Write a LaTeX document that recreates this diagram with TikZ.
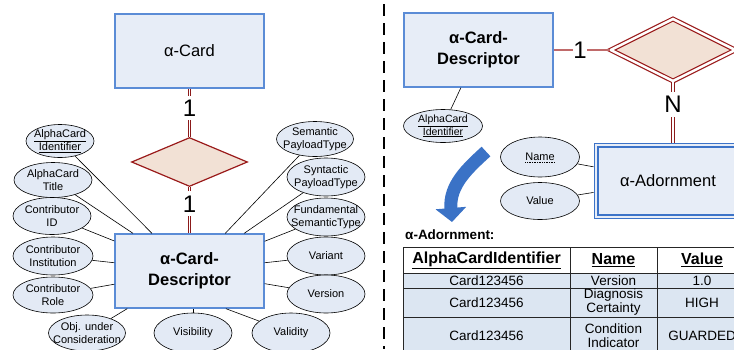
\documentclass[tikz,border=0pt]{standalone}
\usepackage{fontspec}
\setmainfont{Liberation Sans}
\usetikzlibrary{shapes.geometric,arrows.meta,calc}

\definecolor{entfill}{HTML}{E7EDF7}
\definecolor{entline}{HTML}{5B8CD6}
\definecolor{adline}{HTML}{3C73C8}
\definecolor{attrfill}{HTML}{E3EAF5}
\definecolor{relfill}{HTML}{F2E1D5}
\definecolor{relline}{HTML}{9A1A1A}
\definecolor{reldbl}{HTML}{8B1A1A}
\definecolor{relsoft}{HTML}{C06A6A}
\definecolor{rowfill}{HTML}{DCE6F2}
\definecolor{arrowblue}{HTML}{3A72C6}

\begin{document}
\begin{tikzpicture}[x=1pt,y=-1pt,
  entity/.style={rectangle,draw=entline,fill=entfill,line width=1.3pt,
    minimum width=149pt,minimum height=74pt,inner sep=0pt,align=center,
    font=\fontsize{16.5}{20}\selectfont},
  attr/.style={ellipse,draw=black,fill=attrfill,line width=0.6pt,inner sep=0pt,
    minimum width=78pt,minimum height=38pt},
  attrtxt/.style={align=center,inner sep=0pt,font=\fontsize{11}{13}\selectfont},
  link/.style={draw=black,line width=0.6pt},
  rel/.style={diamond,draw=relline,fill=relfill,line width=1.2pt,inner sep=0pt},
  dbl/.style={draw=reldbl,double=white,double distance=1.5pt,line width=0.8pt},
  multlabel/.style={fill=white,inner xsep=0pt,inner ysep=4pt,
    font=\fontsize{24}{24}\selectfont},
  cell/.style={rectangle,draw=black!85,line width=0.7pt,inner sep=0pt,align=center,
    font=\fontsize{13.5}{14}\selectfont},
  headcell/.style={cell,fill=white,font=\fontsize{16}{18}\selectfont\bfseries},
  bodycell/.style={cell,fill=rowfill}]

\useasboundingbox (0,0) rectangle (734,349);
\clip (0,0) rectangle (734,349);

% divider between the two halves
\draw[line width=2pt,dash pattern=on 12pt off 7pt] (384,4) -- (384,349);

% ---------------- left half: attributes of the card descriptor
\node[entity] (card) at (189.5,51) {α-Card};
\node[rel,minimum width=116pt,minimum height=49pt] (rel1) at (189.5,162) {};
\node[entity,font=\fontsize{16.5}{21}\selectfont\bfseries] (desc) at (189.5,271) {α-Card-\\Descriptor};

\draw[dbl] (card) -- node[multlabel,pos=0.4]{1} (rel1);
\draw[dbl] (rel1) -- node[multlabel,pos=0.36]{1} (desc);

\node[attr,minimum width=68pt,minimum height=33pt,
  label={[attrtxt]center:{\underline{AlphaCard}\\\underline{Identifier}}}] (aid) at (60,141) {};
\node[attr,minimum height=35pt,label={[attrtxt]center:{AlphaCard\\Title}}] (atitle) at (53,180) {};
\node[attr,minimum height=37pt,label={[attrtxt]center:{Contributor\\ID}}] (cid) at (52,216) {};
\node[attr,minimum width=80pt,label={[attrtxt]center:{Contributor\\Institution}}] (cinst) at (53,256) {};
\node[attr,minimum width=80pt,minimum height=36pt,label={[attrtxt]center:{Contributor\\Role}}] (crole) at (53,295) {};
\node[attr,minimum width=77pt,minimum height=36pt,label={[attrtxt]center:{Obj. under\\Consideration}}] (obj) at (87,333) {};

\node[attr,minimum width=77pt,minimum height=35pt,label={[attrtxt]center:{Semantic\\PayloadType}}] (sem) at (315,139) {};
\node[attr,label={[attrtxt]center:{Syntactic\\PayloadType}}] (syn) at (326,177) {};
\node[attr,label={[attrtxt]center:{Fundamental\\SemanticType}}] (fund) at (326,217) {};
\node[attr,label={[attrtxt]center:{Variant}}] (var) at (326,256) {};
\node[attr,label={[attrtxt]center:{Version}}] (ver) at (326,294) {};
\node[attr,minimum height=40pt,label={[attrtxt]center:{Visibility}}] (vis) at (193,333) {};
\node[attr,minimum height=40pt,label={[attrtxt]center:{Validity}}] (val) at (291,333) {};

\foreach \a in {aid,atitle,cid,cinst,crole,obj,sem,syn,fund,var,ver}
  \draw[link] (\a) -- (desc);
\draw[link] (vis) -- (vis |- desc.south);
\draw[link] (val) -- (desc.-46);

% ---------------- right half: the adornment relation
\node[entity,font=\fontsize{16.5}{21}\selectfont\bfseries] (rdesc) at (478.5,50) {α-Card-\\Descriptor};
\node[rel,draw=relline,double=white,double distance=2.5pt,line width=1.2pt,
  minimum width=125pt,minimum height=62.5pt] (rel2) at (673,50) {};
\node[rectangle,draw=adline,fill=entfill,line width=1pt,minimum width=148pt,minimum height=75pt,
  inner sep=0pt,font=\fontsize{16.5}{20}\selectfont] (adorn) at (668,180.5) {α-Adornment};
\draw[draw=adline,line width=2pt] ($(adorn.north west)+(4,4)$) rectangle ($(adorn.south east)+(-4,-4)$);

\draw[draw=relsoft,line width=1.2pt] (rdesc) -- node[multlabel,pos=0.47]{1} (rel2);
\draw[dbl] (rel2.south) -- node[multlabel,pos=0.37]{N} (rel2.south |- adorn.north);

\node[attr,minimum width=79pt,minimum height=33pt,
  label={[attrtxt,font=\fontsize{10.5}{12.5}\selectfont]center:{\underline{AlphaCard}\\\underline{Identifier}}}] (rid) at (443,126) {};
\node[attr,minimum width=79pt,minimum height=40pt,label={[attrtxt,name=namelbl]center:{Name}}] (rname) at (540,157) {};
\draw[line width=0.7pt,dash pattern=on 0.8pt off 0.9pt]
  ($(namelbl.base west)+(0,2)$) -- ($(namelbl.base east)+(0,2)$);
\node[attr,minimum width=79pt,minimum height=37pt,label={[attrtxt]center:{Value}}] (rval) at (540,201) {};
\draw[link] (rid) -- (rdesc);
\draw[link] (rname) -- (adorn);
\draw[link] (rval) -- (adorn);

% turning arrow toward the table
\draw[draw=arrowblue,line width=13pt,-{Triangle[width=30pt,length=14pt]}]
  (486,151.5) .. controls (468,168) and (449,185) .. (452,222);

% ---------------- the adornment table
\node[anchor=west,inner sep=0pt,font=\fontsize{13.5}{16}\selectfont\bfseries] (tcap) at (405,235) {α-Adornment:};

\node[headcell,minimum width=167pt,minimum height=26pt] (h1) at (486.5,260) {\underline{AlphaCardIdentifier}};
\node[headcell,minimum width=87pt,minimum height=26pt] (h2) at (613.5,260) {\underline{Name}};
\node[headcell,minimum width=90pt,minimum height=26pt] (h3) at (702,260) {\underline{Value}};

\node[bodycell,minimum width=167pt,minimum height=15pt] (a1) at (486.5,280.5) {Card123456};
\node[bodycell,minimum width=87pt,minimum height=15pt] (b1) at (613.5,280.5) {Version};
\node[bodycell,minimum width=90pt,minimum height=15pt] (c1) at (702,280.5) {1.0};

\node[bodycell,minimum width=167pt,minimum height=29pt] (a2) at (486.5,302.5) {Card123456};
\node[bodycell,minimum width=87pt,minimum height=29pt] (b2) at (613.5,302.5) {Diagnosis\\Certainty};
\node[bodycell,minimum width=90pt,minimum height=29pt] (c2) at (702,302.5) {HIGH};

\node[bodycell,minimum width=167pt,minimum height=38pt] (a3) at (486.5,336) {Card123456};
\node[bodycell,minimum width=87pt,minimum height=38pt] (b3) at (613.5,336) {Condition\\Indicator};
\node[bodycell,minimum width=90pt,minimum height=38pt] (c3) at (702,336) {GUARDED};
\end{tikzpicture}
\end{document}
